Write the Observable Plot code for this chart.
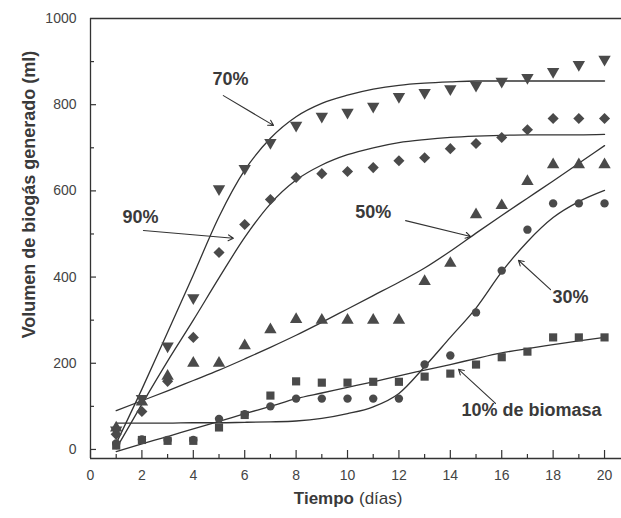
<!DOCTYPE html>
<html><head><meta charset="utf-8">
<script src="https://cdn.jsdelivr.net/npm/d3@7"></script>
<script src="https://cdn.jsdelivr.net/npm/@observablehq/plot@0.6"></script>
<style>body{margin:0;background:#fff;} svg{display:block;}</style>
</head><body><div id="chart"></div>
<script>
// ---- data ----
const days = [1,2,3,4,5,6,7,8,9,10,11,12,13,14,15,16,17,18,19,20];
// observed points
const obs70 = [45,118,240,352,605,652,712,752,773,782,796,819,828,837,845,854,863,877,893,905];
const obs90 = [35,88,158,260,457,522,580,631,640,645,654,670,677,698,710,724,742,768,768,768];
const obs50 = [50,110,170,200,200,241,278,302,300,300,300,300,390,432,545,566,622,661,661,661];
const obs30 = [14,23,22,22,71,82,100,118,118,118,118,118,197,218,318,415,510,571,571,571];
const obs10 = [9,22,20,20,51,80,125,158,155,155,157,157,169,176,197,214,227,260,260,260];
// fitted curves
const fit70 = [14,140,272,405,540,648,722,772,803,822,836,845,850,853,855,855,855,855,855,855];
const fit90 = [2,105,205,300,398,492,570,625,660,684,700,712,719,724,727,729,730,730,730,731];
const fit50 = [90,113,136,160,184,210,237,265,295,326,357,388,421,460,502,543,583,623,664,705];
const fit30 = [61,61,61,62,62,63,64,66,72,83,99,130,192,260,328,412,482,538,575,601];
const fit10 = [-5,13,30,48,65,83,100,118,131,144,157,171,184,197,211,224,234,243,252,260];
// axis ticks
const xTickLabels = [0,2,4,6,8,10,12,14,16,18,20];
const xMinorTicks = [1,3,5,7,9,11,13,15,17,19];
const yTickLabels = [0,200,400,600,800,1000];
const yMinorTicks = [100,300,500,700,900];
// annotations (data units)
const annText = ["70%","90%","50%","30%","10% de biomasa"];
const annX = [5.45, 1.95, 11.0, 18.68, 17.16];
const annY = [858, 538, 550, 353, 91];
const arrX1 = [5.17, 2.06, 12.26, 17.90, 15.76];
const arrY1 = [821, 508, 531, 371, 107];
const arrX2 = [7.12, 5.56, 14.79, 16.65, 14.32];
const arrY2 = [752, 490, 494, 439, 186];

const yMin = -21, yMax = 1000, xMax = 20.66;
const ink = "#333";
const markFill = "#4a4a4a";

const triangleDown = {
  draw(context, size) {
    const y = -Math.sqrt(size / (Math.sqrt(3) * 3));
    context.moveTo(0, -y * 2);
    context.lineTo(-Math.sqrt(3) * y, y);
    context.lineTo(Math.sqrt(3) * y, y);
    context.closePath();
  }
};

const series = [
  {name: "70%", obs: obs70, fit: fit70, symbol: triangleDown, r: 4.6},
  {name: "90%", obs: obs90, fit: fit90, symbol: "diamond2", r: 5.0},
  {name: "50%", obs: obs50, fit: fit50, symbol: "triangle", r: 4.6},
  {name: "30%", obs: obs30, fit: fit30, symbol: "circle", r: 4.2},
  {name: "10%", obs: obs10, fit: fit10, symbol: "square", r: 4.6}
];
const fitRows = series.flatMap(s => days.map((d, i) => ({series: s.name, day: d, v: s.fit[i]})));
const annRows = annText.map((t, i) => ({t, x: annX[i], y: annY[i], x1: arrX1[i], y1: arrY1[i], x2: arrX2[i], y2: arrY2[i]}));

const dotMarks = series.map(s => Plot.dot(days.map((d, i) => ({day: d, v: s.obs[i]})),
  {x: "day", y: "v", symbol: s.symbol, r: s.r, fill: markFill, stroke: "none"}));

const chart = Plot.plot({
  width: 621, height: 518,
  marginLeft: 90, marginRight: 0, marginTop: 18, marginBottom: 60,
  style: {fontFamily: "'Liberation Sans', Arial, sans-serif", fontSize: "14px", color: "#444", background: "#fff"},
  x: {domain: [0, xMax], ticks: xTickLabels, tickSize: 0, tickPadding: 12, label: null, tickFormat: d => String(d)},
  y: {domain: [yMin, yMax], ticks: yTickLabels, tickSize: 0, tickPadding: 14, label: null, tickFormat: d => String(d)},
  marks: [
    // frame lines (left, top, bottom)
    Plot.ruleX([0], {stroke: ink, strokeWidth: 1.3}),
    Plot.ruleY([yMax, yMin], {stroke: ink, strokeWidth: 1.3}),
    // inward ticks
    Plot.ruleX(xTickLabels, {x: d => d, y1: yMin, y2: yMin, insetTop: -8, stroke: ink, strokeWidth: 1.2}),
    Plot.ruleX(xMinorTicks, {x: d => d, y1: yMin, y2: yMin, insetTop: -4, stroke: ink, strokeWidth: 1.2}),
    Plot.ruleY(yTickLabels.filter(d => d < yMax), {y: d => d, x1: 0, x2: 0, insetRight: -6, stroke: ink, strokeWidth: 1.2}),
    Plot.ruleY(yMinorTicks, {y: d => d, x1: 0, x2: 0, insetRight: -4, stroke: ink, strokeWidth: 1.2}),
    // fitted curves
    Plot.line(fitRows, {x: "day", y: "v", z: "series", curve: "monotone-x", stroke: ink, strokeWidth: 1.3}),
    // observations
    ...dotMarks,
    // annotations
    Plot.arrow(annRows, {x1: "x1", y1: "y1", x2: "x2", y2: "y2", stroke: ink, strokeWidth: 1.1, headLength: 8}),
    Plot.text(annRows, {x: "x", y: "y", text: "t", fontWeight: "bold", fontSize: 18, fill: "#3a3a3a"}),
    // axis titles
    Plot.text(["Volumen de biogás generado (ml)"], {frameAnchor: "left", textAnchor: "middle", rotate: -90, dx: -61, dy: -44, fontWeight: "bold", fontSize: 18, fill: "#3a3a3a"}),
    Plot.text(["Tiempo"], {frameAnchor: "bottom", textAnchor: "end", dx: -2, dy: 45, fontWeight: "bold", fontSize: 17, fill: "#3a3a3a"}),
    Plot.text(["(días)"], {frameAnchor: "bottom", textAnchor: "start", dx: 3, dy: 45, fontSize: 17, fill: "#3a3a3a"})
  ]
});
document.getElementById("chart").appendChild(chart);
</script>
</body></html>
